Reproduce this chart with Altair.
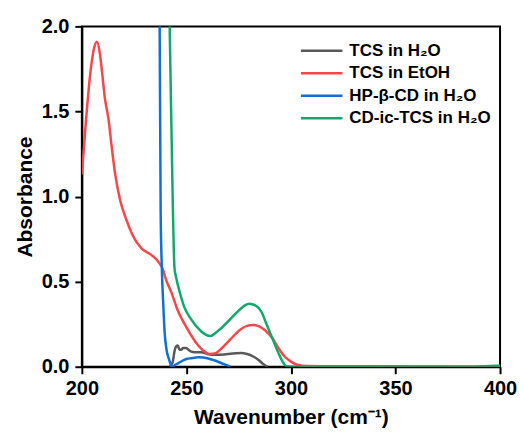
import altair as alt
import pandas as pd

series_names = ["TCS in H₂O", "TCS in EtOH", "HP-β-CD in H₂O", "CD-ic-TCS in H₂O"]
series_colors = ["#595959", "#F5484A", "#1170D6", "#12A86B"]

tcs_h2o_x = [242.0, 242.7, 243.5, 244.3, 245.1, 245.9, 246.7, 247.4, 248.5, 249.8, 251.0, 252.0,
             254.0, 257.0, 260.0, 264.0, 268.0, 272.0, 276.0, 279.0, 282.0, 284.5, 286.5, 288.0, 289.0]
tcs_h2o_y = [0.0, 0.01, 0.03, 0.09, 0.12, 0.125, 0.10, 0.10, 0.11, 0.11, 0.10, 0.09,
             0.085, 0.085, 0.075, 0.07, 0.072, 0.078, 0.08, 0.075, 0.06, 0.04, 0.018, 0.005, 0.0]

tcs_etoh_x = [200, 202, 204, 206, 207.2, 208.5, 209.5, 211, 212.8, 214.3, 215.9, 218.3, 221.4, 224.6,
              228.5, 233.2, 236.4, 238.8, 240.3, 242.7, 245.9, 250.6, 255.3, 258, 261, 264, 267, 271,
              275, 279, 282, 285, 288, 291, 294, 297, 300, 303, 308, 320, 340, 370, 400]
tcs_etoh_y = [1.13, 1.45, 1.72, 1.88, 1.91, 1.85, 1.75, 1.58, 1.45, 1.29, 1.135, 0.98, 0.86, 0.765,
              0.695, 0.657, 0.62, 0.57, 0.51, 0.44, 0.33, 0.22, 0.13, 0.095, 0.075, 0.08, 0.11, 0.16,
              0.21, 0.24, 0.245, 0.235, 0.21, 0.17, 0.11, 0.06, 0.03, 0.012, 0.004, 0.002, 0.002, 0.001, 0.0]

hpcd_x = [236.8, 237.2, 237.7, 238.2, 239.0, 239.6, 240.5, 241.5, 242.7, 243.5, 244.5, 246.0, 247.4,
          250.0, 252.2, 256.0, 260.0, 264.0, 268.0, 271.0]
hpcd_y = [2.3, 2.0, 0.9, 0.6, 0.35, 0.2, 0.1, 0.05, 0.01, 0.0, 0.01, 0.02, 0.03,
          0.045, 0.05, 0.055, 0.05, 0.035, 0.015, 0.0]

cdic_x = [241.5, 242.0, 243.5, 244.3, 245.0, 247.0, 249.0, 252.2, 256.9, 259.0, 261.6, 264.0, 267.0,
          271.0, 275.0, 278.0, 280.0, 283.0, 286.0, 288.0, 290.0, 292.0, 294.0, 296.0, 297.5, 300.0,
          340.0, 388.0, 395.0, 400.0]
cdic_y = [2.3, 2.0, 0.95, 0.58, 0.53, 0.43, 0.35, 0.28, 0.21, 0.19, 0.18, 0.20, 0.23,
          0.28, 0.33, 0.36, 0.37, 0.36, 0.32, 0.26, 0.20, 0.14, 0.08, 0.03, 0.005, 0.0,
          0.0, 0.0, 0.004, 0.006]

x_ticks = [200, 250, 300, 350, 400]
y_ticks = [0.0, 0.5, 1.0, 1.5, 2.0]

rows = []
for name, xs, ys in [
    (series_names[0], tcs_h2o_x, tcs_h2o_y),
    (series_names[1], tcs_etoh_x, tcs_etoh_y),
    (series_names[2], hpcd_x, hpcd_y),
    (series_names[3], cdic_x, cdic_y),
]:
    for i, (xv, yv) in enumerate(zip(xs, ys)):
        rows.append({"series": name, "x": xv, "y": yv, "order": i})
df = pd.DataFrame(rows)

FONT = "Liberation Sans"

chart = (
    alt.Chart(df)
    .mark_line(clip=True, strokeWidth=2.5, interpolate="monotone")
    .encode(
        x=alt.X(
            "x:Q",
            scale=alt.Scale(domain=[200, 400], nice=False, zero=False),
            axis=alt.Axis(values=x_ticks, format="d", title="Wavenumber (cm⁻¹)", grid=False,
                          labelFlush=False),
        ),
        y=alt.Y(
            "y:Q",
            scale=alt.Scale(domain=[0, 2], nice=False),
            axis=alt.Axis(values=y_ticks, format=".1f", title="Absorbance", grid=False,
                          labelFlush=False),
        ),
        color=alt.Color(
            "series:N",
            scale=alt.Scale(domain=series_names, range=series_colors),
            sort=series_names,
            legend=alt.Legend(
                title=None,
                orient="none",
                legendX=218,
                legendY=15,
                symbolType="M-1,0H4.2",
                symbolSize=256,
                symbolStrokeWidth=2.5,
                labelFont=FONT,
                labelFontSize=17,
                labelFontWeight="bold",
                labelColor="black",
                labelOffset=31,
                rowPadding=4.5,
                padding=0,
            ),
        ),
        order="order:Q",
        detail="series:N",
    )
    .properties(
        width=419,
        height=341,
        autosize=alt.AutoSizeParams(type="none"),
        padding={"left": 74, "top": 18, "right": 17, "bottom": 65},
    )
    .configure_view(stroke="black", strokeWidth=2)
    .configure_axis(
        domainColor="black",
        domainWidth=2,
        tickColor="black",
        tickWidth=2,
        tickSize=7,
        labelFont=FONT,
        labelFontSize=20,
        labelFontWeight="bold",
        labelColor="black",
        titleFont=FONT,
        titleFontSize=21,
        titleFontWeight="bold",
        titleColor="black",
    )
    .configure_axisX(labelPadding=5, titlePadding=8)
    .configure_axisY(labelPadding=6, titlePadding=6)
)

chart.save("out.html", embed_options={"renderer": "svg", "actions": False})
